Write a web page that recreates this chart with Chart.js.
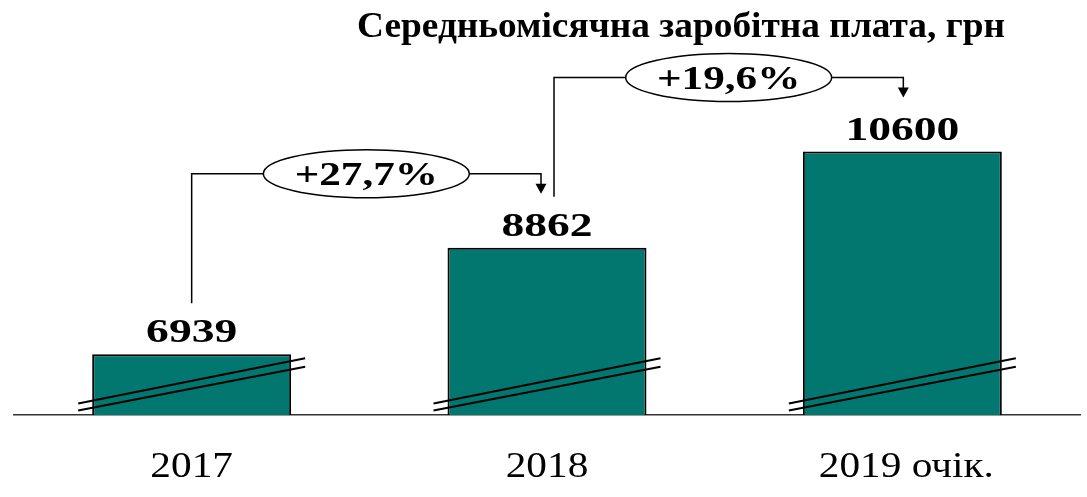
<!DOCTYPE html>
<html><head><meta charset="utf-8">
<script src="https://cdn.jsdelivr.net/npm/chart.js@4.4.0/dist/chart.umd.min.js"></script>
<style>html,body{margin:0;padding:0;background:#fff;overflow:hidden}</style>
</head><body>
<canvas id="c" width="1087" height="497"></canvas>
<script>
const categories = ['2017', '2018', '2019 очік.'];
const salaries = [6939, 8862, 10600];
const growthLabels = ['+27,7%', '+19,6%'];
const titleText = 'Середньомісячна заробітна плата, грн';
const axisMin = 5840;
const axisMax = 12615;

function stretchedText(ctx, text, x, y, font, sx, align) {
  ctx.save();
  ctx.font = font;
  ctx.translate(x, y);
  ctx.scale(sx, 1);
  ctx.textAlign = align || 'center';
  ctx.textBaseline = 'alphabetic';
  ctx.fillStyle = '#000';
  ctx.fillText(text, 0, 0);
  ctx.restore();
}

const decorations = {
  id: 'decorations',
  afterDatasetsDraw(chart) {
    const ctx = chart.ctx;
    const bars = chart.getDatasetMeta(0).data.map(el => el.getProps(['x', 'y', 'base', 'width'], true));
    const base = chart.chartArea.bottom;
    const xs = chart.scales.x;
    ctx.save();
    // break marks
    ctx.strokeStyle = '#000';
    ctx.lineWidth = 2;
    bars.forEach(b => {
      const l = b.x - b.width / 2 - 14, r = b.x + b.width / 2 + 14;
      ctx.beginPath();
      ctx.moveTo(l, base - 11.5); ctx.lineTo(r, base - 56.7);
      ctx.moveTo(l, base - 4.5); ctx.lineTo(r, base - 48.3);
      ctx.stroke();
    });
    // value labels
    bars.forEach((b, i) => {
      stretchedText(ctx, String(salaries[i]), b.x, b.y - 12, 'bold 34px "Liberation Serif", "Times New Roman", serif', 1.34);
    });
    // category labels
    categories.forEach((c, i) => {
      stretchedText(ctx, c, xs.getPixelForValue(i) + (i === 2 ? 4 : 0), 477, '35px "Liberation Serif", "Times New Roman", serif', 1.18);
    });
    // growth connectors
    ctx.lineWidth = 1.5;
    for (let i = 0; i < growthLabels.length; i++) {
      const a = bars[i], b = bars[i + 1];
      const startX = i === 0 ? a.x : a.x + 7;
      const startY = a.y - 51;
      const endX = i === 0 ? b.x - 6 : b.x + 1;
      const levelY = b.y - 74;
      const tipY = b.y - 54;
      const cx = (startX + endX) / 2;
      const rx = 103, ry = 24;
      ctx.beginPath();
      ctx.moveTo(startX, startY);
      ctx.lineTo(startX, levelY);
      ctx.lineTo(cx - rx, levelY);
      ctx.moveTo(cx + rx, levelY);
      ctx.lineTo(endX, levelY);
      ctx.lineTo(endX, tipY - 9);
      ctx.stroke();
      ctx.beginPath();
      ctx.moveTo(endX - 5.5, tipY - 10);
      ctx.lineTo(endX + 5.5, tipY - 10);
      ctx.lineTo(endX, tipY);
      ctx.closePath();
      ctx.fillStyle = '#000';
      ctx.fill();
      ctx.beginPath();
      ctx.ellipse(cx, levelY, rx, ry, 0, 0, Math.PI * 2);
      ctx.fillStyle = '#fff';
      ctx.fill();
      ctx.stroke();
      stretchedText(ctx, growthLabels[i], cx, levelY + 11, 'bold 34px "Liberation Serif", "Times New Roman", serif', 1.27);
    }
    // title
    const tFont = 'bold 35px "Liberation Serif", "Times New Roman", serif';
    ctx.font = tFont;
    const w = ctx.measureText(titleText).width;
    stretchedText(ctx, titleText, 357, 37, tFont, 648 / w, 'left');
    ctx.restore();
  }
};

new Chart(document.getElementById('c'), {
  type: 'bar',
  data: {
    labels: categories,
    datasets: [{
      data: salaries,
      backgroundColor: '#02776F',
      borderColor: '#000',
      borderWidth: 2,
      categoryPercentage: 0.8,
      barPercentage: 0.7
    }]
  },
  options: {
    responsive: false,
    animation: false,
    layout: { padding: { left: 14, right: 7, top: 40, bottom: 82 } },
    plugins: { legend: { display: false }, tooltip: { enabled: false }, title: { display: false } },
    scales: {
      x: {
        display: true,
        grid: { display: false, drawTicks: false },
        border: { display: true, color: '#333', width: 1.5 },
        ticks: { display: false }
      },
      y: { display: false, min: axisMin, max: axisMax }
    }
  },
  plugins: [decorations]
});
</script>
</body></html>
